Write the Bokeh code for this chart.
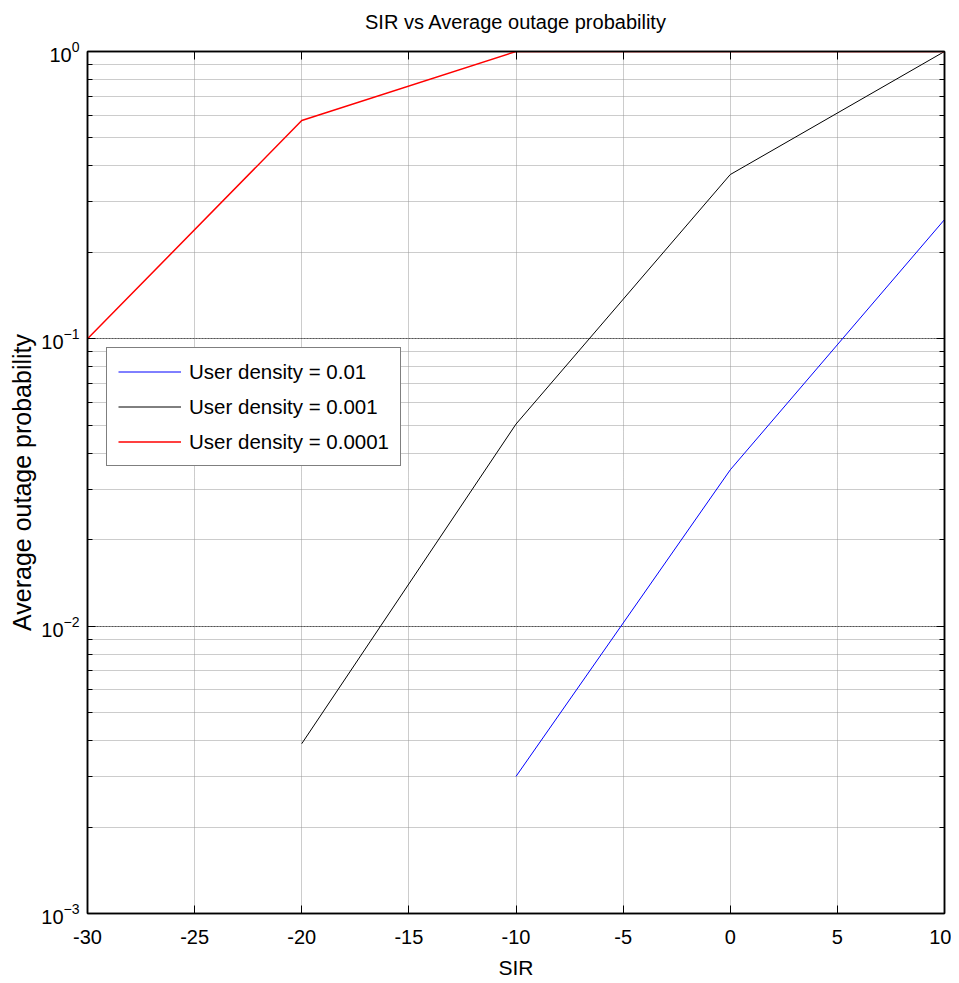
from bokeh.plotting import figure
from bokeh.models import LogAxis, LinearAxis, Range1d, CustomJSTickFormatter, FixedTicker, LogTicker, Legend, LegendItem
from bokeh.embed import file_html
from bokeh.resources import INLINE

sir_blue = [-10, 0, 10]
p_blue = [0.003, 0.035, 0.26]
sir_black = [-20, -10, 0, 10]
p_black = [0.0039, 0.0505, 0.373, 1.0]
sir_red = [-30, -20, -10, 0, 10]
p_red = [0.1, 0.575, 1.0, 1.0, 1.0]
labels = ["User density = 0.01", "User density = 0.001", "User density = 0.0001"]
x_ticks = [-30, -25, -20, -15, -10, -5, 0, 5, 10]
title_text = "SIR vs Average outage probability"

FONT = "Liberation Sans"

p = figure(width=951, height=981, y_axis_type="log",
           x_range=Range1d(-30, 10), y_range=Range1d(1e-3, 1),
           output_backend="svg", toolbar_location=None,
           min_border_left=87, min_border_top=51, min_border_right=7, min_border_bottom=61)

p.outline_line_color = "black"
p.outline_line_width = 1.5

for ax in (p.xaxis[0], p.yaxis[0]):
    ax.axis_line_color = "black"
    ax.axis_line_width = 1.5
    ax.major_tick_out = 0
    ax.major_tick_in = 8
    ax.minor_tick_out = 0
    ax.minor_tick_in = 5
    ax.major_label_text_font = FONT
    ax.major_label_text_font_size = "20px"
    ax.major_label_text_color = "black"
    ax.axis_label_text_font = FONT
    ax.axis_label_text_font_style = "normal"
    ax.axis_label_text_color = "black"
p.xaxis[0].ticker = FixedTicker(ticks=x_ticks)
p.xaxis[0].formatter = CustomJSTickFormatter(code="return tick.toString()")
p.xaxis[0].axis_label = "SIR"
p.xaxis[0].axis_label_text_font_size = "21px"
p.xaxis[0].major_label_standoff = 16
p.xaxis[0].axis_label_standoff = 9
p.yaxis[0].axis_label = "Average outage probability"
p.yaxis[0].axis_label_text_font_size = "25px"
p.yaxis[0].ticker = LogTicker(num_minor_ticks=10)
p.yaxis[0].major_label_standoff = 8
p.yaxis[0].axis_label_standoff = 2

empty = CustomJSTickFormatter(code="return ''")
top = LinearAxis(ticker=FixedTicker(ticks=x_ticks), formatter=empty,
                 major_tick_out=0, major_tick_in=8, axis_line_color="black", axis_line_width=1.5,
                 major_label_standoff=0)
spacer = LinearAxis(ticker=FixedTicker(ticks=x_ticks), formatter=empty,
                    major_tick_out=19, major_tick_in=0, axis_line_color=None,
                    major_tick_line_color=None, minor_tick_line_color=None,
                    major_label_standoff=0)
right = LogAxis(ticker=LogTicker(num_minor_ticks=10), formatter=empty,
                major_tick_out=0, major_tick_in=8, minor_tick_out=0, minor_tick_in=5,
                axis_line_color="black", axis_line_width=1.5, major_label_standoff=0)
p.add_layout(top, "above")
p.add_layout(spacer, "above")
p.add_layout(right, "right")

p.title.text = title_text
p.title.align = "center"
p.title.text_font = FONT
p.title.text_font_size = "20px"
p.title.text_font_style = "normal"
p.title.text_color = "black"
p.title.standoff = 0

p.xgrid.ticker = FixedTicker(ticks=x_ticks)
p.xgrid.grid_line_color = "#999999"
p.xgrid.grid_line_dash = "1 1"
p.xgrid.grid_line_width = 1
p.ygrid.grid_line_color = "#555555"
p.ygrid.grid_line_dash = "2 1"
p.ygrid.minor_grid_line_color = "#999999"
p.ygrid.minor_grid_line_dash = "1 1"

r_blue = p.line(sir_blue, p_blue, line_color="#0000ff", line_width=1)
r_black = p.line(sir_black, p_black, line_color="black", line_width=1)
r_red = p.line(sir_red, p_red, line_color="#ff0000", line_width=1.5)

legend = Legend(items=[LegendItem(label=labels[0], renderers=[r_blue]),
                       LegendItem(label=labels[1], renderers=[r_black]),
                       LegendItem(label=labels[2], renderers=[r_red])],
                location=(19, 447))
legend.border_line_color = "black"
legend.border_line_width = 1.2
legend.glyph_width = 63
legend.glyph_height = 25
legend.label_height = 25
legend.spacing = 10
legend.padding = 11
legend.margin = 0
legend.label_standoff = 8
legend.label_text_font = FONT
legend.label_text_font_size = "20.5px"
legend.label_text_color = "black"
legend.background_fill_color = "white"
legend.background_fill_alpha = 1
p.add_layout(legend, "center")

open("out.html", "w").write(file_html(p, INLINE))
